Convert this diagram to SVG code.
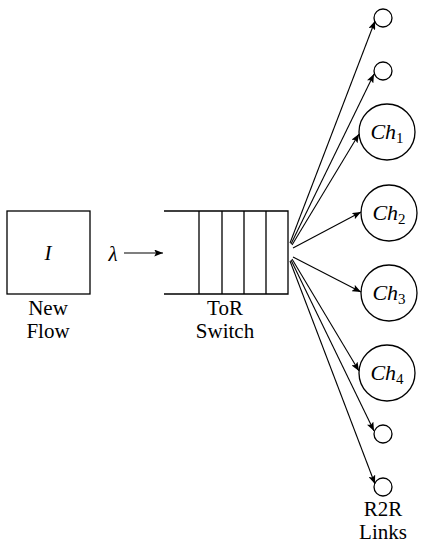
<svg xmlns="http://www.w3.org/2000/svg" width="423" height="550" viewBox="0 0 423 550">
<style>
.s{fill:none;stroke:#000;stroke-width:1.3}
.c{fill:#fff;stroke:#000;stroke-width:1.3}
.t{font-family:"Liberation Serif","DejaVu Serif",serif;font-size:21px;fill:#000;text-anchor:middle}
.i{font-style:italic}
.ch{font-size:22px}
.e{stroke:#000;stroke-width:1.1;fill:none;marker-end:url(#ah)}
</style>
<defs>
<marker id="ah" viewBox="0 0 10 8" refX="10" refY="4" markerWidth="9" markerHeight="7" markerUnits="userSpaceOnUse" orient="auto">
<path d="M0,0 L10,4 L0,8 L2,4 Z" fill="#000"/>
</marker>
</defs>
<g id="newflow">
<rect class="s" x="7" y="211" width="83" height="83"/>
<text class="t i" x="48" y="260" font-size="23">I</text>
<text class="t" x="48" y="315">New</text>
<text class="t" x="48" y="338">Flow</text>
</g>
<g id="lambda">
<text class="t i" x="113" y="261" font-size="23">λ</text>
</g>
<g id="tor">
<path class="s" d="M164,211 H288 V294 H164 M199,211 V294 M222,211 V294 M244,211 V294 M266,211 V294"/>
<text class="t" x="225" y="315">ToR</text>
<text class="t" x="225" y="338">Switch</text>
</g>
<g id="n1"><circle class="c" cx="383" cy="18" r="9"/></g>
<g id="n2"><circle class="c" cx="383" cy="71" r="9"/></g>
<g id="ch1"><circle class="c" cx="387" cy="132" r="28"/><text class="t i ch" x="387" y="139">Ch<tspan font-size="15" dy="4" font-style="normal">1</tspan></text></g>
<g id="ch2"><circle class="c" cx="389" cy="213" r="28"/><text class="t i ch" x="389" y="220">Ch<tspan font-size="15" dy="4" font-style="normal">2</tspan></text></g>
<g id="ch3"><circle class="c" cx="389" cy="293" r="28"/><text class="t i ch" x="389" y="300">Ch<tspan font-size="15" dy="4" font-style="normal">3</tspan></text></g>
<g id="ch4"><circle class="c" cx="387" cy="373" r="28"/><text class="t i ch" x="387" y="380">Ch<tspan font-size="15" dy="4" font-style="normal">4</tspan></text></g>
<g id="n7"><circle class="c" cx="383" cy="434" r="9"/></g>
<g id="n8"><circle class="c" cx="383" cy="487" r="9"/>
<text class="t" x="383" y="516">R2R</text>
<text class="t" x="383" y="539">Links</text></g>
<g id="connectors">
<line class="e" x1="124" y1="253" x2="163" y2="253"/>
<line class="e" x1="290" y1="243" x2="375" y2="21"/>
<line class="e" x1="291" y1="244" x2="374" y2="74"/>
<line class="e" x1="292" y1="245" x2="359" y2="134"/>
<line class="e" x1="293" y1="248" x2="361" y2="212"/>
<line class="e" x1="293" y1="257" x2="361" y2="292"/>
<line class="e" x1="292" y1="259" x2="359" y2="371"/>
<line class="e" x1="291" y1="260" x2="374" y2="431"/>
<line class="e" x1="290" y1="261" x2="375" y2="484"/>
</g>
</svg>
